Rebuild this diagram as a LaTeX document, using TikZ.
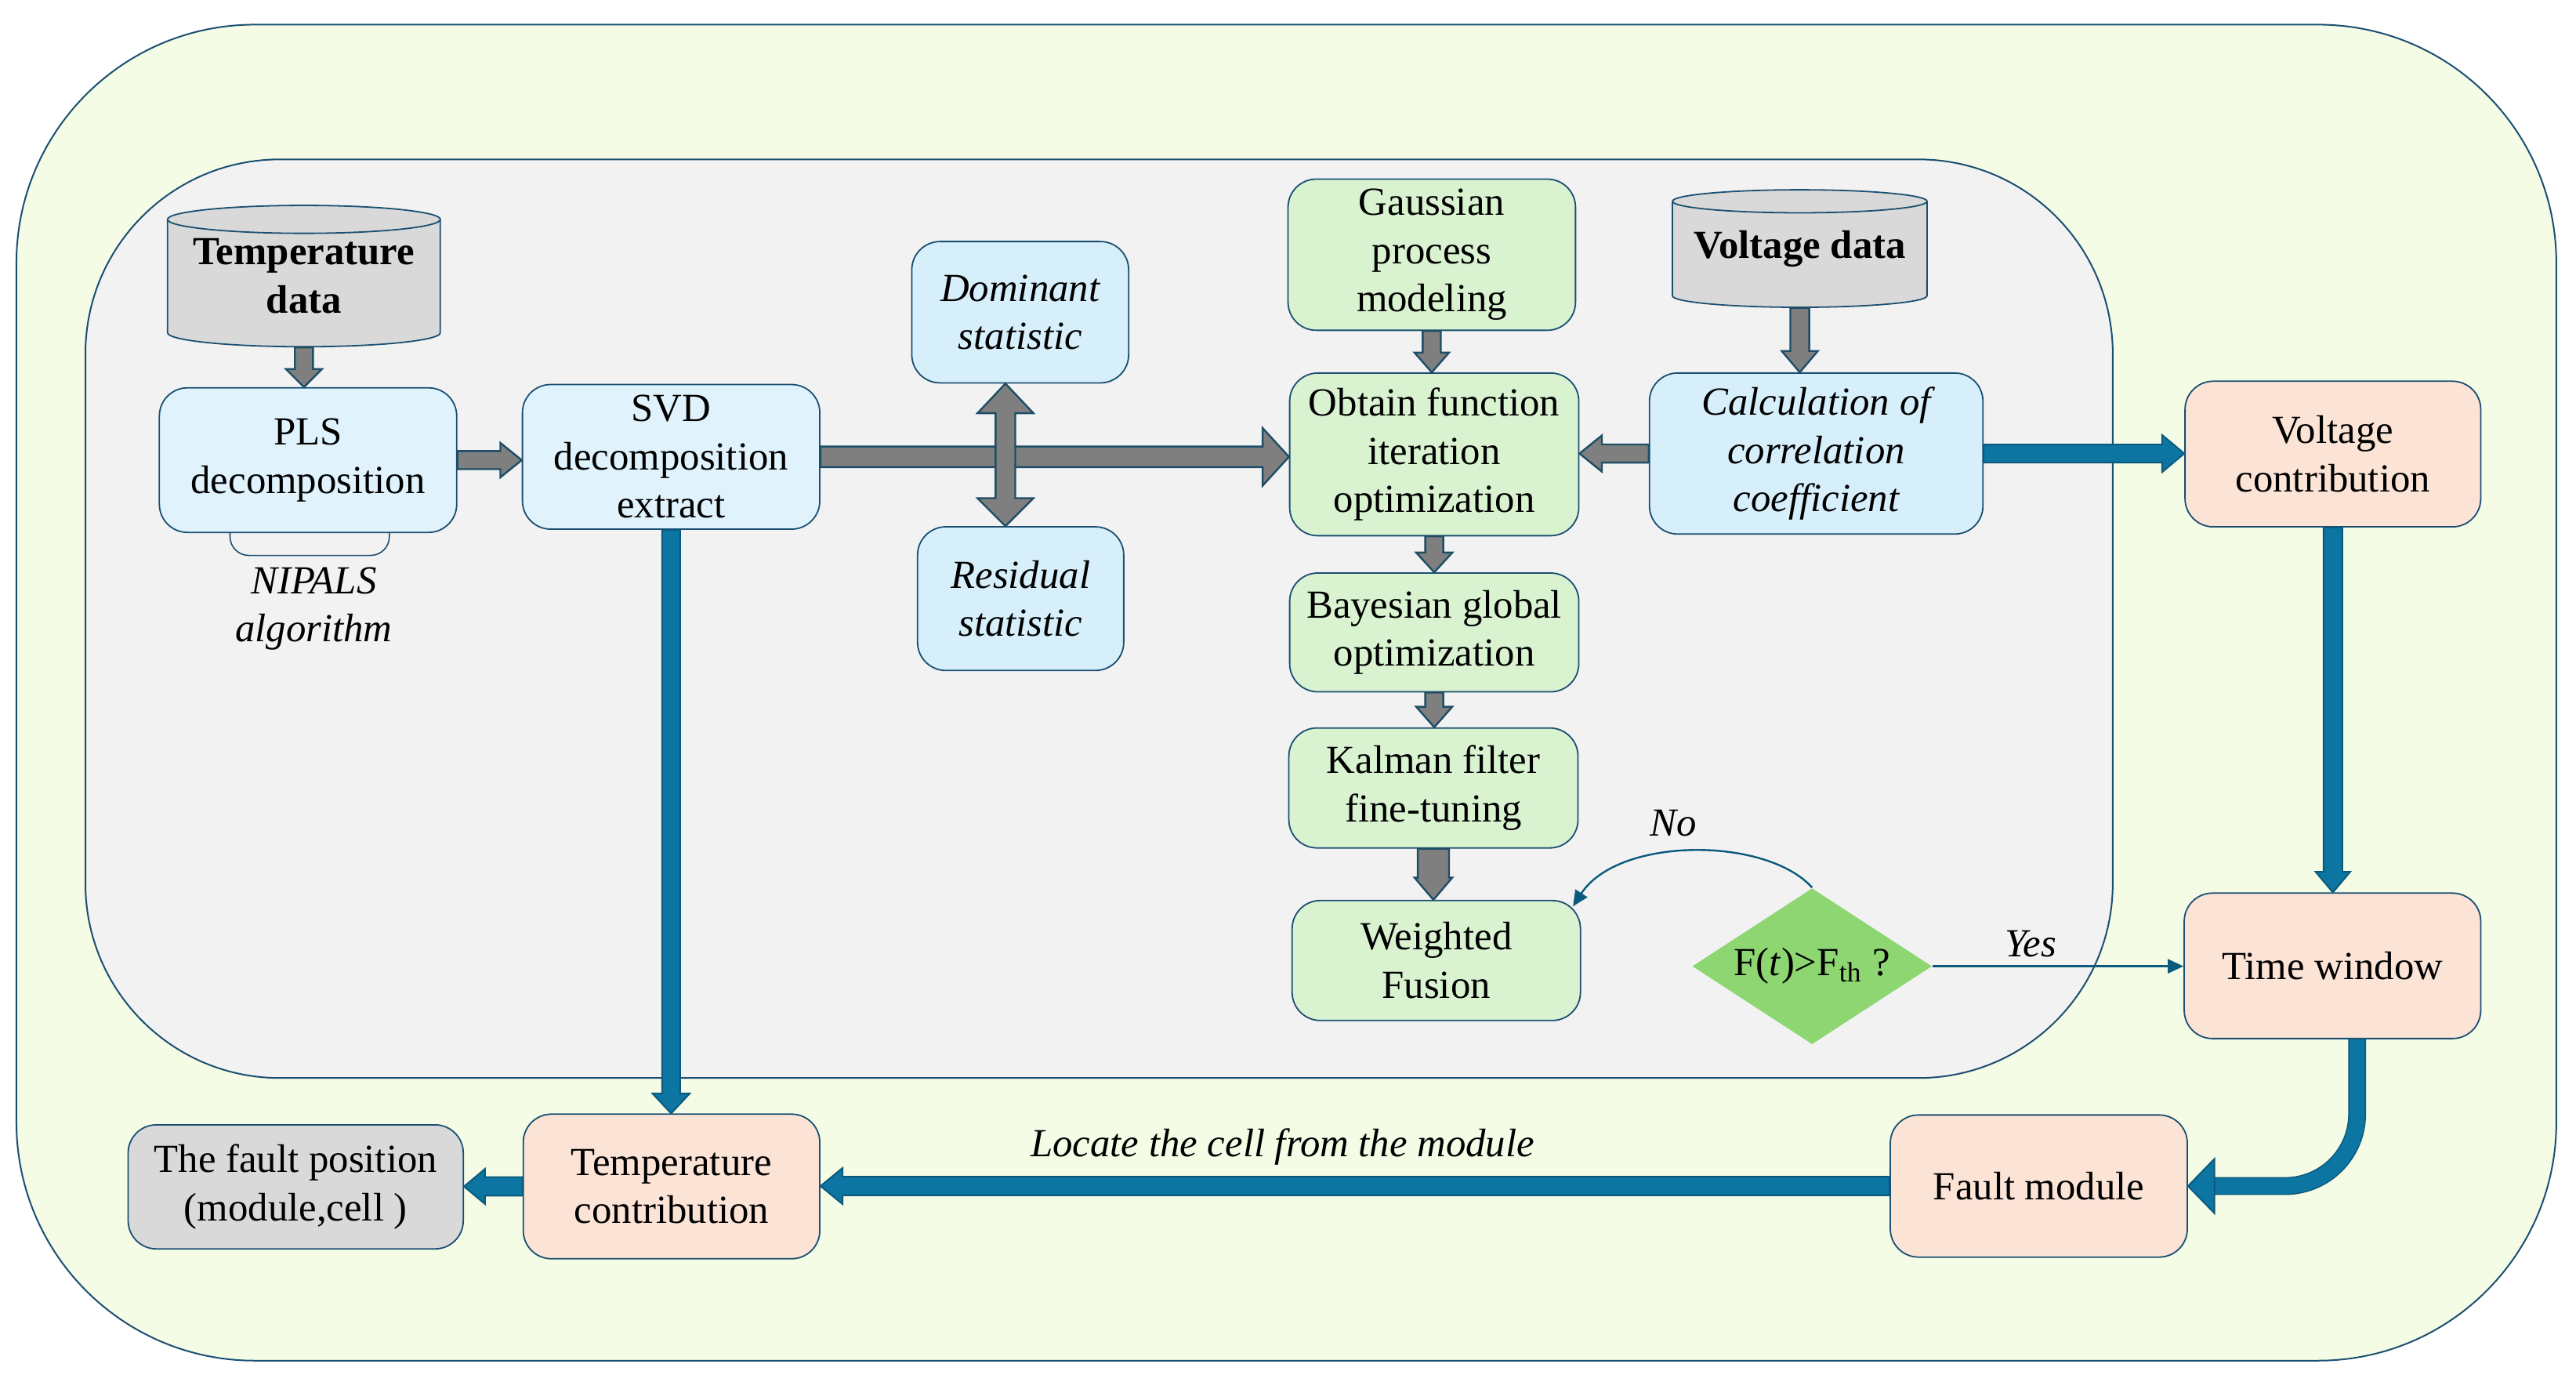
\documentclass[tikz,border=0pt]{standalone}
\usepackage{fontspec}
\setmainfont{Liberation Serif}
\usetikzlibrary{calc,shapes.geometric,arrows.meta}
\definecolor{outerc}{HTML}{F4FCE6}
\definecolor{innerc}{HTML}{F2F2F2}
\definecolor{bordc}{HTML}{1B4F72}
\definecolor{blueA}{HTML}{E0F3FC}
\definecolor{blueB}{HTML}{D6EFFA}
\definecolor{greenc}{HTML}{D9F2D0}
\definecolor{peachc}{HTML}{FBE3D6}
\definecolor{grayc}{HTML}{D9D9D9}
\definecolor{diac}{HTML}{8DD672}
\definecolor{arrgray}{HTML}{7F7F7F}
\definecolor{arrgraybd}{HTML}{1E4D66}
\definecolor{arrblue}{HTML}{0C75A1}
\definecolor{arrbluebd}{HTML}{0B5A7E}
\newcommand\fsz{\fontsize{12.7}{15.4}\selectfont}
\newcommand\blockarrow[6][]{%
  \pgfmathsetlengthmacro\baS{#4*0.52408pt}%
  \pgfmathsetlengthmacro\baH{#5*0.52408pt}%
  \pgfmathsetlengthmacro\baL{#6*0.52408pt}%
  \path (#3) coordinate (bat) ($(#3)!\baL!(#2)$) coordinate (bah);
  \path[#1] ($(#2)!\baS!90:(#3)$) -- ($(bah)!\baS!90:(bat)$) -- ($(bah)!\baH!90:(bat)$) -- (bat)
    -- ($(bah)!\baH!-90:(bat)$) -- ($(bah)!\baS!-90:(bat)$) -- ($(#2)!\baS!-90:(#3)$) -- cycle;
}
% box node from corner coordinates (display units)
\newcommand\boxnode[7][]{%
  \pgfmathsetmacro\bnx{(#3+#5)/2}%
  \pgfmathsetmacro\bny{(#4+#6)/2}%
  \pgfmathsetlengthmacro\bnw{(#5-#3)*0.52408pt}%
  \pgfmathsetlengthmacro\bnh{(#6-#4)*0.52408pt}%
  \node[#1, minimum width=\bnw, minimum height=\bnh, anchor=center] (#2) at (\bnx,\bny) {#7};%
}
\tikzset{
  box/.style={draw=bordc, line width=0.45pt, rounded corners=9pt, inner sep=0pt, align=center, font=\fsz},
  boxA/.style={box, fill=blueA},
  boxB/.style={box, fill=blueB},
  boxG/.style={box, fill=greenc},
  boxP/.style={box, fill=peachc},
  boxY/.style={box, fill=grayc},
  txt/.style={inner sep=0pt, align=center, font=\fsz},
  grayarr/.style={fill=arrgray, draw=arrgraybd, line width=0.6pt, line join=miter},
  bluearr/.style={fill=arrblue, draw=arrbluebd, line width=0.5pt, line join=miter},
  thinblue/.style={draw=arrbluebd, line width=0.6pt},
}
\begin{document}
\begin{tikzpicture}[x=0.52408pt,y=-0.52408pt]
\useasboundingbox (0,0) rectangle (1568,841);
% backgrounds
\draw[bordc, line width=0.5pt, fill=outerc, rounded corners=76pt] (10,15) rectangle (1556,828);
\draw[bordc, line width=0.5pt, fill=innerc, rounded corners=62pt] (52,97) rectangle (1286,656);

% temperature cylinder
\fill[grayc] (102,133.5) -- (102,202.5) arc[start angle=180,end angle=360,x radius=43.5pt,y radius=4.45pt]
  -- (268,133.5) arc[start angle=0,end angle=180,x radius=43.5pt,y radius=4.45pt] -- cycle;
\draw[bordc, line width=0.45pt] (102,133.5) -- (102,202.5) arc[start angle=180,end angle=360,x radius=43.5pt,y radius=4.45pt] -- (268,133.5);
\draw[bordc, line width=0.45pt] (185,133.5) ellipse[x radius=43.5pt, y radius=4.45pt];
\boxnode[txt, font=\fsz\bfseries]{tdata}{102}{125}{268}{211}{Temperature\\data}

% voltage cylinder
\fill[grayc] (1018,122.5) -- (1018,180) arc[start angle=180,end angle=360,x radius=40.6pt,y radius=3.67pt]
  -- (1173,122.5) arc[start angle=0,end angle=180,x radius=40.6pt,y radius=3.67pt] -- cycle;
\draw[bordc, line width=0.45pt] (1018,122.5) -- (1018,180) arc[start angle=180,end angle=360,x radius=40.6pt,y radius=3.67pt] -- (1173,122.5);
\draw[bordc, line width=0.45pt] (1095.5,122.5) ellipse[x radius=40.6pt, y radius=3.67pt];
\boxnode[txt, font=\fsz\bfseries]{vdata}{1018}{115.5}{1173}{187}{Voltage data}

% NIPALS bracket
\draw[bordc, line width=0.4pt, rounded corners=6pt] (140,318) -- (140,338) -- (237,338) -- (237,318);

% boxes
\boxnode[boxA]{pls}{97}{236}{278}{324}{PLS\\decomposition}
\node[txt, font=\fsz\itshape] (nip) at (191,370.5) {NIPALS\\algorithm};
\boxnode[boxA]{svd}{318}{234}{499}{322}{SVD\\decomposition\\extract}
\boxnode[boxB, font=\fsz\itshape]{dom}{555}{147}{687}{233}{Dominant\\statistic}
\boxnode[boxB, font=\fsz\itshape]{res}{558.5}{320.6}{684}{408}{Residual\\statistic}
\boxnode[boxG]{gauss}{784}{109}{959}{201}{Gaussian\\process\\modeling}
\boxnode[boxG]{obtain}{785}{227}{961}{326}{Obtain function\\iteration\\optimization}
\boxnode[boxG]{bayes}{785}{348.7}{961}{421}{Bayesian global\\optimization}
\boxnode[boxG]{kalman}{784.5}{443}{960.5}{516}{Kalman filter\\fine-tuning}
\boxnode[boxG]{weighted}{786.5}{548}{962}{621}{Weighted\\Fusion}
\boxnode[boxB, font=\fsz\itshape]{calc}{1004}{227}{1207}{325}{Calculation of\\correlation\\coefficient}
\boxnode[boxP]{vcontrib}{1330}{232}{1510}{320.6}{Voltage\\contribution}
\boxnode[boxP]{twin}{1329.5}{543.5}{1510}{632}{Time window}
\boxnode[boxP]{fmod}{1150.6}{678.5}{1331.4}{765}{Fault module}
\boxnode[boxP]{tcontrib}{318.5}{678}{499}{766}{Temperature\\contribution}
\boxnode[boxY]{fpos}{78}{684.5}{282}{760}{The fault position\\(module,cell )}
\node[diamond, fill=diac, draw=none, inner sep=0pt, minimum width=76.5pt, minimum height=49.8pt] (dec) at (1103,588) {};
\node[txt] (dectext) at (dec.center) {F(\textit{t})>F\textsubscript{th} ?};

% gray arrows
\blockarrow[grayarr]{tdata.south}{tdata.south |- pls.north}{5.5}{11}{11}
\blockarrow[grayarr]{pls.east}{pls.east -| svd.west}{5.5}{10.5}{13}
\blockarrow[grayarr]{svd.east}{svd.east -| obtain.west}{6.25}{17.5}{16}
\coordinate (da1) at ($(dom.south)+(-9,0)$);
\coordinate (da2) at (da1 |- res.north);
\draw[grayarr] (da1) -- ($(da1)+(17,18)$) -- ($(da1)+(6,18)$) -- ($(da2)+(6,-17)$) -- ($(da2)+(17,-17)$) -- (da2)
  -- ($(da2)+(-17,-17)$) -- ($(da2)+(-6,-17)$) -- ($(da1)+(-6,18)$) -- ($(da1)+(-17,18)$) -- cycle;
\blockarrow[grayarr]{gauss.south}{gauss.south |- obtain.north}{5.5}{10.5}{12}
\blockarrow[grayarr]{obtain.south}{obtain.south |- bayes.north}{5.5}{11}{12}
\blockarrow[grayarr]{bayes.south}{bayes.south |- kalman.north}{5.5}{11}{12.5}
\blockarrow[grayarr]{kalman.south}{kalman.south |- weighted.north}{9.5}{11.5}{13.5}
\blockarrow[grayarr]{vdata.south}{vdata.south |- calc.north}{5.75}{11}{13}
\blockarrow[grayarr]{calc.west}{calc.west -| obtain.east}{5.5}{11}{13.6}

% blue arrows
\blockarrow[bluearr]{calc.east}{calc.east -| vcontrib.west}{5.5}{11.3}{13.5}
\blockarrow[bluearr]{vcontrib.south}{vcontrib.south |- twin.north}{5.7}{10.5}{12.5}
\blockarrow[bluearr]{svd.south}{svd.south |- tcontrib.north}{5.5}{11.4}{12.2}
\blockarrow[bluearr]{fmod.west}{fmod.west -| tcontrib.east}{5.7}{11}{13.4}
\blockarrow[bluearr]{tcontrib.west}{tcontrib.west -| fpos.east}{5.7}{10.7}{12.8}
\coordinate (cv1) at ($(twin.south)+(15,0)$);
\coordinate (cvh) at ($(fmod.east)+(16,0)$);
\draw[draw=arrbluebd, line width=0.4pt, double=arrblue, double distance=4.9pt, rounded corners=23pt] (cv1) |- (cvh);
\draw[bluearr] ($(cvh)+(0,-16.5)$) -- (fmod.east) -- ($(cvh)+(0,16.5)$) -- cycle;

% decision connectors
\coordinate (wtip) at ($(weighted.north east)+(-5,4)$);
\draw[thinblue, -{Triangle[length=5pt,width=4.5pt]}] (dec.north) .. controls (1075,509) and (985,509) .. (wtip);
\draw[thinblue, -{Triangle[length=5pt,width=4.5pt]}] (dec.east) -- (dec.east -| twin.west);

% labels
\node[txt, font=\fsz\itshape] (lno) at (1018.5,501) {No};
\node[txt, font=\fsz\itshape] (lyes) at (1236,574.5) {Yes};
\node[txt, font=\fsz\itshape] (lloc) at (780.7,697.7) {Locate the cell from the module};
\end{tikzpicture}
\end{document}
